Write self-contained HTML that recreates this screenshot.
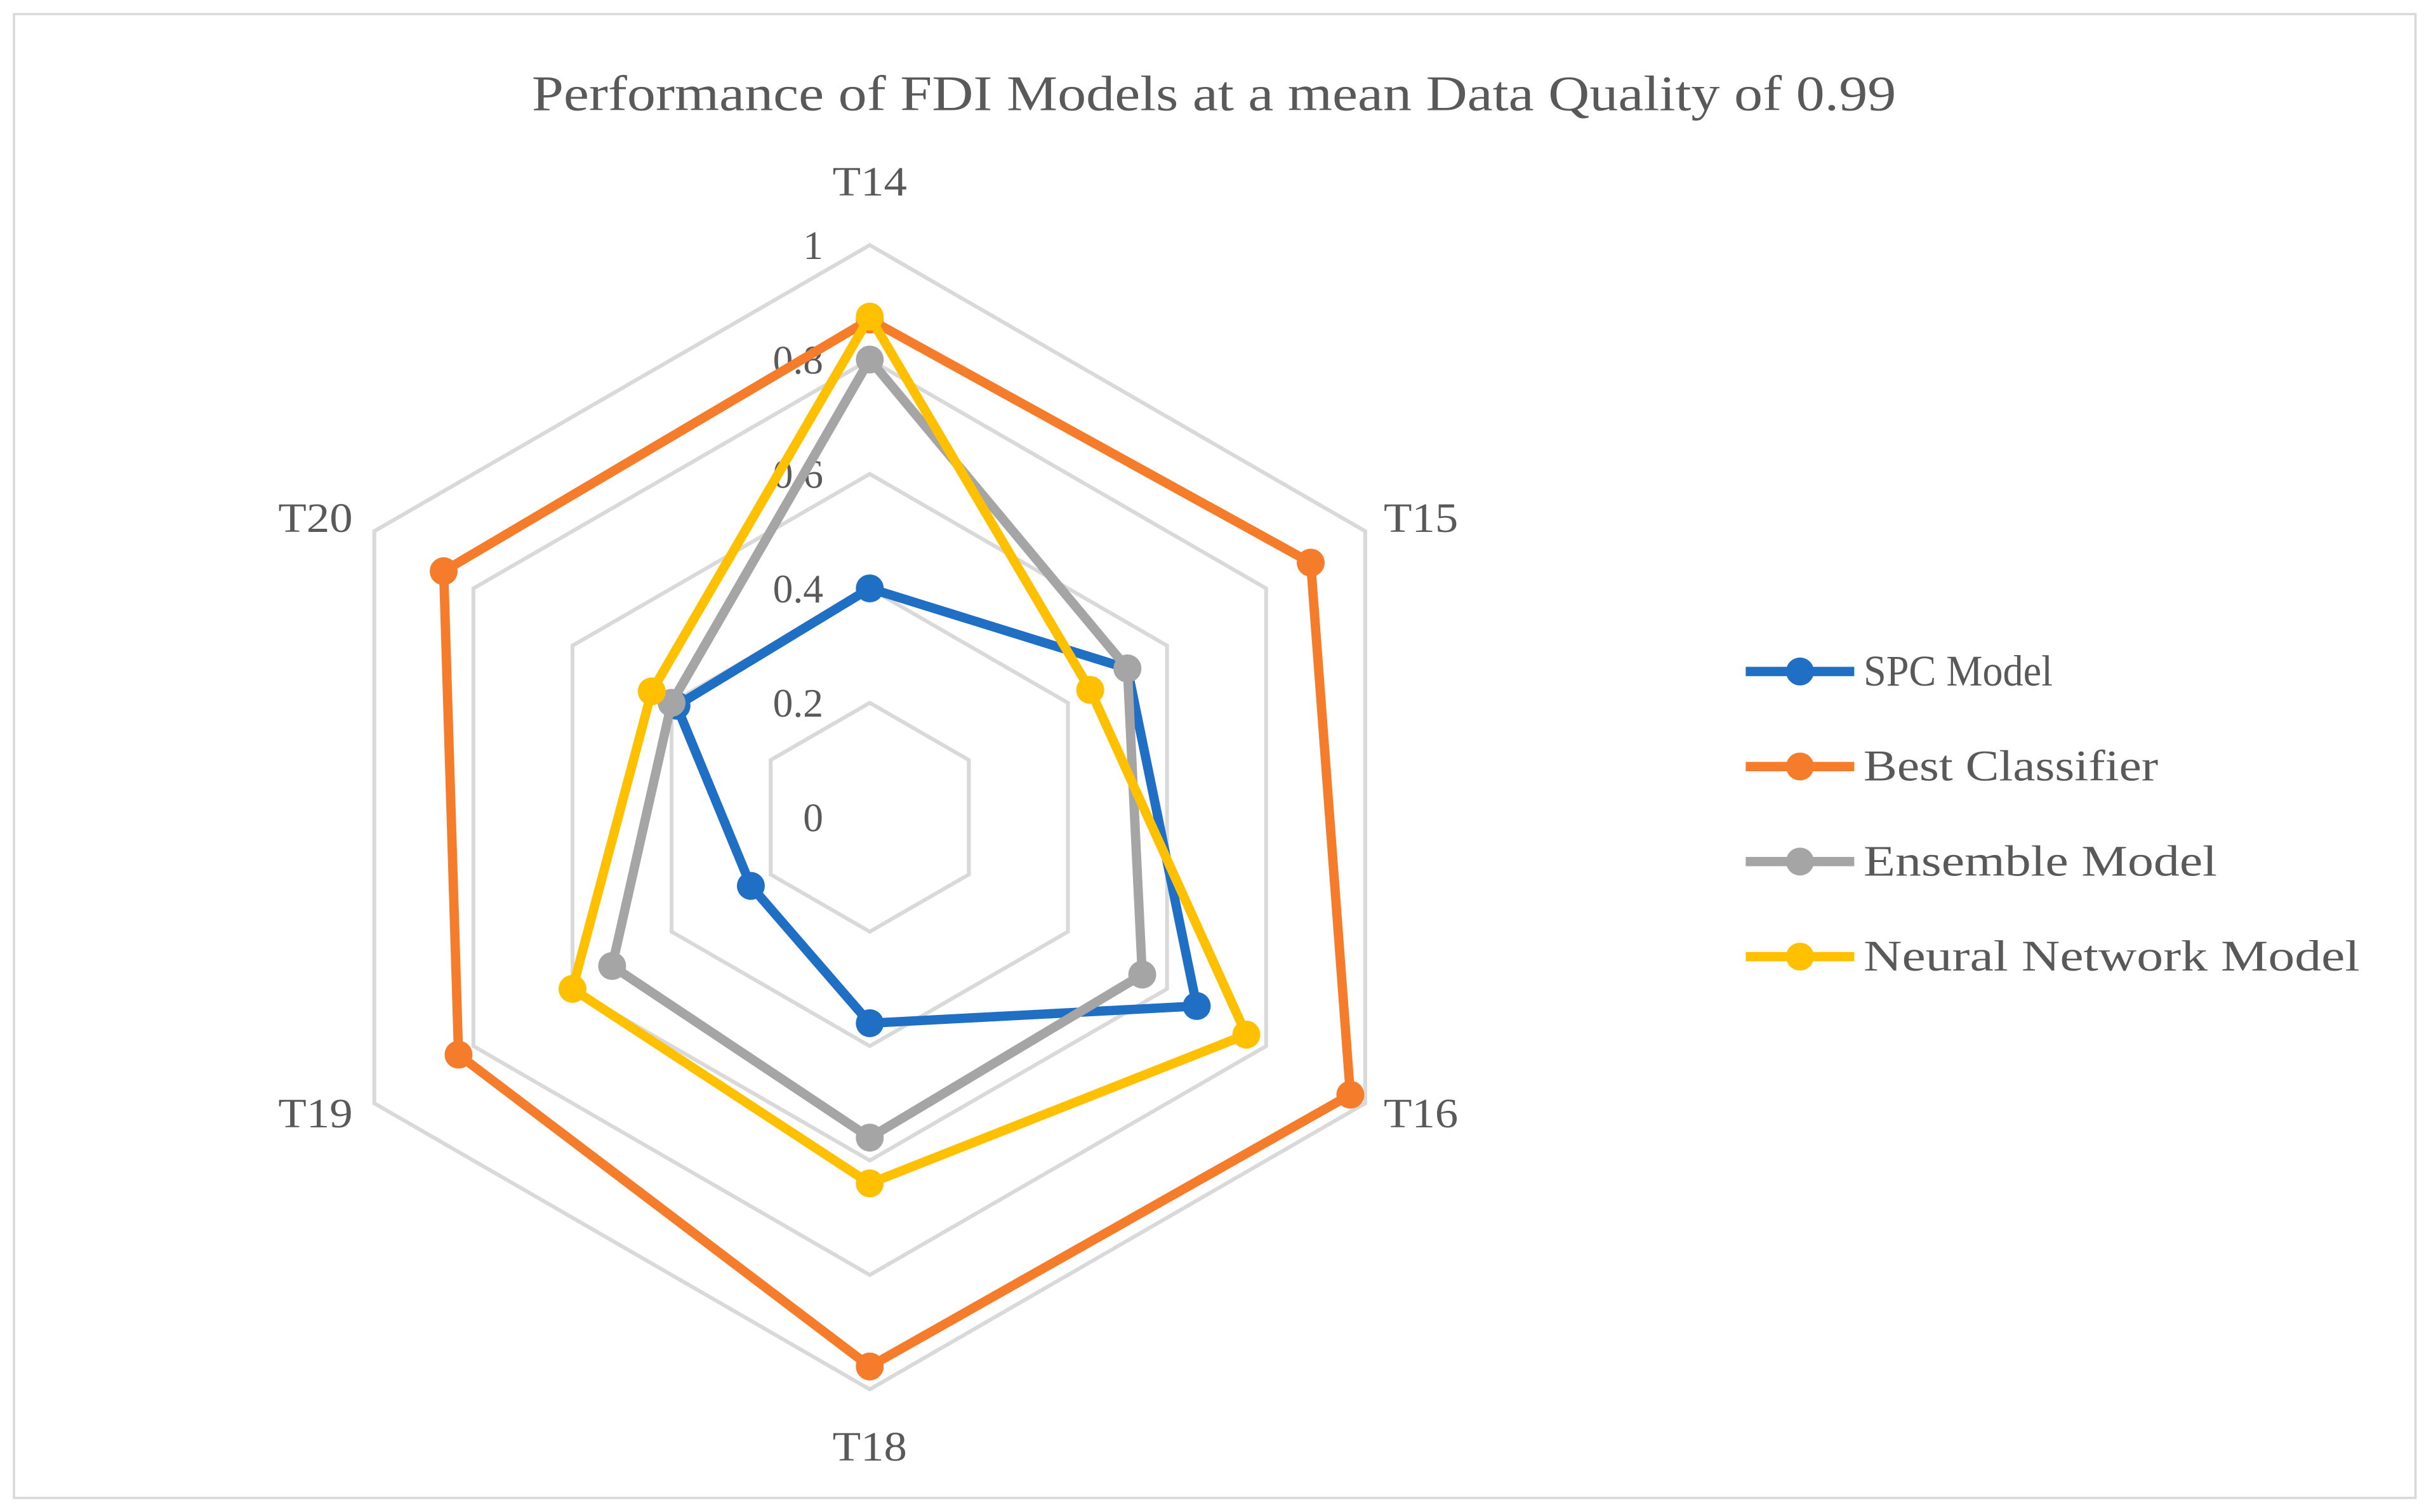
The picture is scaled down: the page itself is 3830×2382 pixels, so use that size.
<!DOCTYPE html>
<html><head><meta charset="utf-8">
<style>html,body{margin:0;padding:0;background:#fff}svg{display:block}</style></head>
<body>
<svg id="chart" width="3830" height="2382" viewBox="0 0 1568 975" xmlns="http://www.w3.org/2000/svg" font-family="'Liberation Serif', serif">
<rect x="9" y="9" width="1549" height="957" fill="#fff" stroke="#d9d9d9" stroke-width="1.5"/>
<text x="783" y="71" text-anchor="middle" font-size="32" fill="#595959" textLength="880" lengthAdjust="spacingAndGlyphs">Performance of FDI Models at a mean Data Quality of 0.99</text>
<g id="grid"></g>
<g id="series"></g>
<g id="legend"></g>
</svg>
<script>
const categories = ["T14","T15","T16","T18","T19","T20"];
const tickLabels = ["0","0.2","0.4","0.6","0.8","1"];
const tickValues = [0,0.2,0.4,0.6,0.8,1];
const seriesNames = ["SPC Model","Best Classifier","Ensemble Model","Neural Network Model"];
const spcValues = [0.40,0.52,0.66,0.36,0.24,0.39];
const bestValues = [0.87,0.89,0.97,0.96,0.83,0.86];
const ensembleValues = [0.80,0.52,0.55,0.56,0.52,0.40];
const nnValues = [0.875,0.445,0.76,0.64,0.60,0.44];
const colors = ["#1f6fc5","#f47c2a","#a5a5a5","#ffc000"];
const legendWidths = [122,190,228,320];

const NS="http://www.w3.org/2000/svg";
const cx=561, cy=527, R=369;
function pt(i,v){const a=i*Math.PI*2/categories.length;return [cx+R*v*Math.sin(a), cy-R*v*Math.cos(a)];}
function mk(tag,attrs,parent){const e=document.createElementNS(NS,tag);for(const k in attrs)e.setAttribute(k,attrs[k]);parent.appendChild(e);return e;}
const grid=document.getElementById('grid');
tickValues.forEach((t,k)=>{
  if(t===0)return;
  const pts=categories.map((c,i)=>pt(i,t).join(',')).join(' ');
  const g=mk('polygon',{points:pts,fill:'none',stroke:'#d9d9d9','stroke-width':2.5},grid);
  
  
});
tickValues.forEach((t,k)=>{
  const p=pt(0,t);
  const tx=mk('text',{x:p[0]-30,y:p[1]+9,'text-anchor':'end','font-size':26,fill:'#595959'},grid);
  tx.textContent=tickLabels[k];
  
  
});
categories.forEach((c,i)=>{
  const p=pt(i,1.1);
  let anchor='middle', dy=0;
  if(i===1||i===2){anchor='start';p[0]-=20;}
  if(i===4||i===5){anchor='end';p[0]+=18;}
  if(i===0)dy=5; if(i===3)dy=9;
  if(i===1||i===5)dy=19;
  if(i===2||i===4)dy=-3;
  const tx=mk('text',{x:p[0],y:p[1]+dy,'text-anchor':anchor,'font-size':27,fill:'#595959',textLength:48,lengthAdjust:'spacingAndGlyphs'},grid);
  tx.textContent=c;
  
  
});
const ser=document.getElementById('series');
[spcValues,bestValues,ensembleValues,nnValues].forEach((vals,s)=>{
  const g=mk('g',{},ser);
  
  
  const pts=vals.map((v,i)=>pt(i,v).join(',')).join(' ');
  const pl=mk('polygon',{points:pts,fill:'none',stroke:colors[s],'stroke-width':6,'stroke-linejoin':'round'},g);
  
  
  vals.forEach((v,i)=>{
    const p=pt(i,v);
    const c=mk('circle',{cx:p[0],cy:p[1],r:9,fill:colors[s]},g);
    
    
  });
});
const leg=document.getElementById('legend');
seriesNames.forEach((n,s)=>{
  const y=433+s*61.3;
  const g=mk('g',{},leg);
  
  
  mk('line',{x1:1126,y1:y,x2:1196,y2:y,stroke:colors[s],'stroke-width':6},g);
  mk('circle',{cx:1161,cy:y,r:9,fill:colors[s]},g);
  const t=mk('text',{x:1202,y:y+9,'font-size':28,fill:'#595959',textLength:legendWidths[s],lengthAdjust:'spacingAndGlyphs'},g);
  t.textContent=n;
});
</script>
</body></html>
